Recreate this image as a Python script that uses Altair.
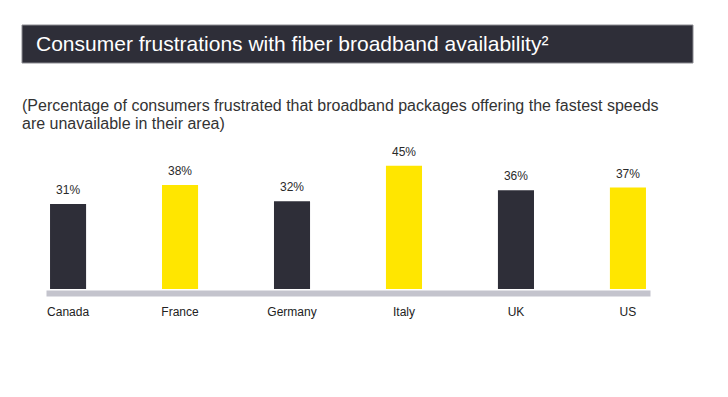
import altair as alt
import pandas as pd

countries = ["Canada", "France", "Germany", "Italy", "UK", "US"]
values = [31, 38, 32, 45, 36, 37]
labels = ["31%", "38%", "32%", "45%", "36%", "37%"]
groups = ["dark", "yellow", "dark", "yellow", "dark", "yellow"]

title_text = "Consumer frustrations with fiber broadband availability\u00b2"
subtitle_lines = [
    "(Percentage of consumers frustrated that broadband packages offering the fastest speeds",
    "are unavailable in their area)",
]

DARK = "#2e2e38"
YELLOW = "#ffe600"
GRAY = "#c4c4cd"
TEXT = "#333333"
FONT = "Liberation Sans, Arial, sans-serif"

df = pd.DataFrame({"country": countries, "value": values, "label": labels, "group": groups})

x = alt.X(
    "country:N",
    sort=countries,
    scale=alt.Scale(paddingInner=0.678, paddingOuter=0.036),
    axis=alt.Axis(
        title=None, ticks=False, domainColor=GRAY, domainWidth=6, offset=4,
        labelAngle=0, labelPadding=13, labelFont=FONT, labelFontSize=12,
        labelColor="#222222", labelBaseline="top", grid=False,
    ),
)
y = alt.Y("value:Q", scale=alt.Scale(domain=[0, 50], nice=False), axis=None)

bars = alt.Chart(df).mark_bar().encode(
    x=x, y=y,
    color=alt.Color("group:N", scale=alt.Scale(domain=["dark", "yellow"], range=[DARK, YELLOW]), legend=None),
)
vals = alt.Chart(df).mark_text(
    dy=-10, baseline="alphabetic", font=FONT, fontSize=12, color="#2a2a2a"
).encode(x=alt.X("country:N", sort=countries), y=y, text="label:N")

one = pd.DataFrame({"k": [0]})
title_bg = alt.Chart(one).mark_rect(color=DARK, stroke="#8a8a90", strokeWidth=1).encode(
    x=alt.value(-24), x2=alt.value(647), y=alt.value(-127), y2=alt.value(-89)
)
title_txt = alt.Chart(one).mark_text(
    text=title_text, align="left", baseline="alphabetic", font=FONT, fontSize=21, color="white"
).encode(x=alt.value(-10), y=alt.value(-101))
sub_txt = alt.Chart(one).mark_text(
    text=subtitle_lines, align="left", baseline="alphabetic", font=FONT, fontSize=16,
    color=TEXT, lineHeight=18
).encode(x=alt.value(-24), y=alt.value(-41))

chart = alt.layer(title_bg, title_txt, sub_txt, bars, vals).properties(
    width=604, height=137,
    autosize=alt.AutoSizeParams(type="none"),
    padding={"left": 38, "top": 144, "right": 70, "bottom": 80},
).configure_view(stroke=None)

chart.save("out.html", embed_options={"renderer": "svg", "actions": False})
